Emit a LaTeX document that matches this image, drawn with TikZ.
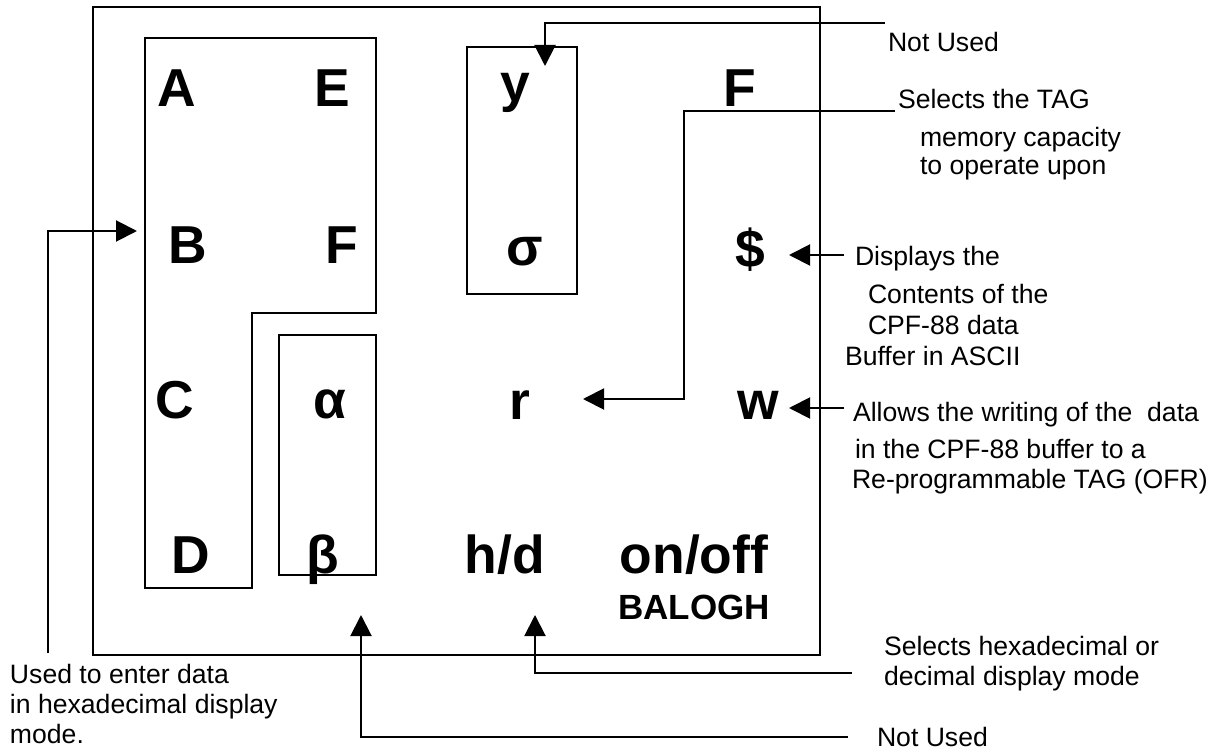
\documentclass[tikz,border=0pt]{standalone}
\usepackage{fontspec}
\setmainfont{Liberation Sans}
\usepackage{tikz}
\usetikzlibrary{arrows.meta}

\begin{document}
\begin{tikzpicture}[x=.5pt,y=-.5pt,line width=1pt,
    key/.style={font=\fontsize{26.7}{30}\selectfont\bfseries,anchor=base,inner sep=0pt},
    lbl/.style={font=\fontsize{13.3}{15}\selectfont,anchor=base west,inner sep=0pt},
    arr/.style={-{Triangle[length=10.5pt,width=10.5pt]}}]
  \useasboundingbox (0,0) rectangle (1225,753);
  \draw (93,7) rectangle (820,655);
  \draw (145,38) -| (376,313) -| (252,588) -| (145,38) -- cycle;
  \draw (467,47) rectangle (577,294);
  \draw (279,335) rectangle (376,575);
  \node[key] (ka) at (177,107) {A};
  \node[key] (ke) at (332,107) {E};
  \node[key] (kb) at (188,264) {B};
  \node[key] (kf) at (342,264) {F};
  \node[key] (kc) at (175,418) {C};
  \node[key] (kd) at (191,573) {D};
  \node[key] (kalpha) at (330,418) {α};
  \node[key] (kbeta) at (323,573) {β};
  \node[key] (ky) at (515,102) {y};
  \node[key] (ksigma) at (525,266) {σ};
  \node[key] (kr) at (520,419) {r};
  \node[key] (khd) at (505,573) {h/d};
  \node[key] (kff) at (740,107) {F};
  \node[key] (kdollar) at (750,268) {\$};
  \node[key] (kw) at (758,419) {w};
  \node[key] (kon) at (694,573) {on/off};
  \node[key,font=\fontsize{17.5}{20}\selectfont\bfseries] (kbal) at (694,619) {BALOGH};
  \node[lbl] (nu1) at (887,52) {Not Used};
  \node[lbl] (tag1) at (897,109) {Selects the TAG};
  \node[lbl] (tag2) at (919,147) {memory capacity};
  \node[lbl] (tag3) at (919,175) {to operate upon};
  \node[lbl] (dsp1) at (854,266) {Displays the};
  \node[lbl] (dsp2) at (867,304) {Contents of the};
  \node[lbl] (dsp3) at (867,335) {CPF-88 data};
  \node[lbl] (dsp4) at (844,365) {Buffer in ASCII};
  \node[lbl] (wr1) at (852,421) {Allows the writing of the \ data};
  \node[lbl] (wr2) at (854,458) {in the CPF-88 buffer to a};
  \node[lbl] (wr3) at (851,488) {Re-programmable TAG (OFR)};
  \node[lbl] (hd1) at (883,655) {Selects hexadecimal or};
  \node[lbl] (hd2) at (883,685) {decimal display mode};
  \node[lbl] (nu2) at (876,746) {Not Used};
  \node[lbl] (hex1) at (9,683) {Used to enter data};
  \node[lbl] (hex2) at (9,713) {in hexadecimal display};
  \node[lbl] (hex3) at (9,743) {mode.};
  \coordinate (nuA) at (885,23);
  \coordinate (nuB) at (545,66);
  \coordinate (tagA) at (895,111);
  \coordinate (tagB) at (684,399);
  \coordinate (tagC) at (583,399);
  \coordinate (dspA) at (844,255);
  \coordinate (dspB) at (789,255);
  \coordinate (wrA) at (844,408);
  \coordinate (wrB) at (789,408);
  \coordinate (hdA) at (852,673);
  \coordinate (hdB) at (535,615);
  \coordinate (nu2A) at (848,737);
  \coordinate (nu2B) at (361,615);
  \coordinate (hexA) at (48,653);
  \coordinate (hexB) at (137,231);
  \draw[arr] (nuA) -| (nuB);
  \draw[arr] (tagA) -| (tagB) -- (tagC);
  \draw[arr] (dspA) -- (dspB);
  \draw[arr] (wrA) -- (wrB);
  \draw[arr] (hdA) -| (hdB);
  \draw[arr] (nu2A) -| (nu2B);
  \draw[arr] (hexA) |- (hexB);
\end{tikzpicture}
\end{document}
